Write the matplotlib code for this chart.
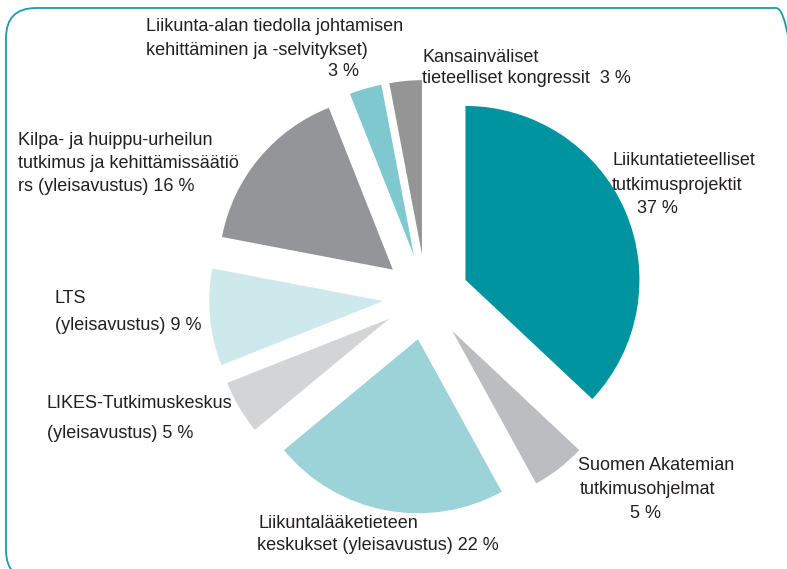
import matplotlib.pyplot as plt
from matplotlib.patches import FancyBboxPatch

# osuudet myötäpäivään klo 12:sta alkaen
shares = [37, 5, 22, 5, 9, 16, 3, 3]
colors = ['#0093a0', '#bcbdc0', '#9bd3d8', '#d3d4d6',
          '#cde9ec', '#939598', '#80c8d0', '#959595']
labels = [
    'Liikuntatieteelliset\ntutkimusprojektit',
    'Suomen Akatemian\ntutkimusohjelmat',
    'Liikuntalääketieteen\nkeskukset (yleisavustus)',
    'LIKES-Tutkimuskeskus\n(yleisavustus)',
    'LTS\n(yleisavustus)',
    'Kilpa- ja huippu-urheilun\ntutkimus ja kehittämissäätiö\nrs (yleisavustus)',
    'Liikunta-alan tiedolla johtamisen\nkehittäminen ja -selvitykset)',
    'Kansainväliset\ntieteelliset kongressit',
]

W, H = 787, 569
FONT = ['Liberation Sans Narrow', 'Liberation Sans', 'DejaVu Sans']

fig = plt.figure(figsize=(W / 100, H / 100), dpi=100)
ax = fig.add_axes([0, 0, 1, 1])

ax.pie(shares, colors=colors, startangle=90, counterclock=False,
       explode=[43] * len(shares), radius=174, center=(426, H - 297),
       wedgeprops=dict(linewidth=0))

ax.set_xlim(0, W)
ax.set_ylim(0, H)
ax.set_aspect('equal')
ax.axis('off')

# kehys
frame = FancyBboxPatch((6, H - 580), 800, 572,
                       boxstyle='round,pad=0,rounding_size=30',
                       fill=False, edgecolor='#1c9ba5', linewidth=1.3,
                       clip_on=False)
ax.add_patch(frame)


def txt(x, y, s, ha='left'):
    ax.text(x, H - y, s, ha=ha, va='center', fontsize=13,
            family=FONT, color='#231f20')


def lab(i):
    return f'{shares[i]} %'


# tekstit (pikselipaikat ylhäältä)
l = labels[0].split('\n')
txt(612, 160, l[0]); txt(612, 185, l[1]); txt(657, 208, lab(0), ha='center')
l = labels[1].split('\n')
txt(578, 465, l[0]); txt(580, 490, l[1]); txt(646, 514, lab(1), ha='center')
l = labels[2].split('\n')
txt(258, 523, l[0]); txt(257, 546, l[1] + ' ' + lab(2))
l = labels[3].split('\n')
txt(47, 403, l[0]); txt(47, 433, l[1] + ' ' + lab(3))
l = labels[4].split('\n')
txt(55, 298, l[0]); txt(55, 326, l[1] + ' ' + lab(4))
l = labels[5].split('\n')
txt(18, 140, l[0]); txt(18, 163, l[1]); txt(18, 186, l[2] + ' ' + lab(5))
l = labels[6].split('\n')
txt(146, 26, l[0]); txt(146, 50, l[1]); txt(343, 71, lab(6), ha='center')
l = labels[7].split('\n')
txt(422, 57, l[0]); txt(422, 78, l[1] + '  ' + lab(7))

fig.savefig('out.png', dpi=100)
